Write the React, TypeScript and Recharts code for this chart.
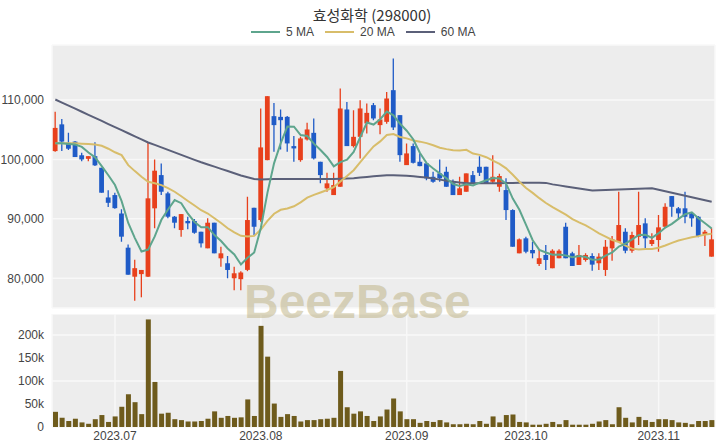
import React from "react";
import {
  ComposedChart,
  BarChart,
  Bar,
  Line,
  XAxis,
  YAxis,
  CartesianGrid,
} from "recharts";

// daily candles, oldest first
const openPrices = [
  101400, 105900, 102800, 103000, 100700, 100100, 100550, 98600, 93600, 94000,
  90900, 85150, 80270, 80700, 80270, 91770, 97360, 94290, 90360, 88120,
  89640, 89640, 87830, 85040, 89350, 83360, 82530, 80000, 79850, 81410,
  91860, 89800, 99880, 107280, 107160, 107160, 102240, 99880, 103360, 104470,
  99600, 95130, 94000, 95400, 108400, 102240, 103800, 106050, 109130, 105770,
  106320, 111650, 107450, 99040, 102240, 99600, 99330, 97080, 97650, 97920,
  96070, 94000, 94560, 97360, 98760, 98760, 96240, 95400, 94840, 91480,
  84200, 86720, 84760, 82410, 83920, 81690, 83370, 88670, 84200, 82240,
  83080, 83750, 82530, 81400, 85040, 86150, 87830, 84640, 86980, 89240,
  85770, 86440, 88670, 93830, 91770, 91770, 90920, 90360, 87450, 83640,
];
const highPrices = [
  108000, 106800, 104500, 103100, 101100, 100550, 102900, 98600, 94800, 94400,
  91600, 85700, 83100, 81400, 102950, 100000, 99330, 94560, 90500, 90800,
  90350, 89960, 87830, 90080, 89350, 85300, 83750, 81950, 81200, 93700,
  91860, 108570, 110640, 109510, 108400, 107300, 103920, 103800, 106150, 106890,
  99600, 97750, 97750, 111930, 109680, 108290, 109970, 109410, 109510, 108570,
  111360, 116980, 107450, 102690, 102690, 101010, 99330, 97920, 100000, 98760,
  96600, 97080, 97650, 98030, 100550, 98760, 100720, 97600, 96810, 91620,
  86700, 87000, 86150, 84760, 85600, 84900, 84900, 89350, 84480, 85600,
  84200, 84200, 84200, 86440, 87110, 94560, 88400, 87830, 94560, 90080,
  87560, 90640, 92610, 93830, 92000, 94560, 91000, 90500, 88120, 88400,
];
const lowPrices = [
  101300, 101400, 101600, 100400, 99700, 99700, 98900, 94400, 92000, 91700,
  86150, 80600, 76200, 76800, 80200, 88400, 94000, 90080, 88400, 87000,
  88240, 87500, 85200, 85040, 84200, 81950, 80000, 78000, 78000, 81200,
  87280, 89500, 99880, 101280, 101680, 101280, 99600, 99600, 103200, 100000,
  95970, 94560, 94000, 95400, 102240, 102000, 100170, 104370, 106600, 104250,
  106000, 104930, 99600, 99040, 99300, 98870, 96500, 96070, 96240, 95400,
  94000, 94000, 94560, 95970, 97200, 95970, 95970, 94560, 89800, 85310,
  84200, 84200, 83360, 82070, 81400, 81690, 83370, 83370, 82070, 82240,
  82800, 81270, 81400, 80390, 82960, 86000, 84200, 84310, 85600, 85040,
  85430, 84470, 88400, 90360, 90080, 89240, 88670, 86900, 85430, 83640,
];
const closePrices = [
  105300, 103000, 101800, 100400, 100000, 100550, 99000, 94400, 92700, 91800,
  87000, 80600, 81700, 81400, 93450, 98100, 94560, 90360, 89350, 90800,
  89250, 87660, 85880, 89350, 84200, 84200, 81400, 80840, 80970, 89800,
  88670, 102020, 110640, 105770, 106600, 102690, 101850, 103530, 105040, 100170,
  97360, 95970, 95680, 108570, 102240, 103800, 108570, 107830, 106890, 106720,
  110250, 105380, 100720, 101010, 99430, 98870, 96810, 96240, 96810, 95400,
  94000, 95130, 97650, 95970, 97750, 95970, 97080, 97200, 91480, 85310,
  86550, 84470, 84200, 83370, 83080, 84640, 84640, 83370, 82070, 83920,
  83920, 82300, 83640, 85310, 86550, 88960, 84640, 87280, 88960, 86720,
  86440, 88570, 92030, 92030, 90920, 90360, 90080, 87110, 87830, 86550,
];
const volumes = [
  33000, 20000, 13000, 18000, 10000, 7000, 17000, 26000, 11000, 23000,
  44000, 71000, 54000, 28000, 234000, 98000, 29000, 31000, 17000, 15000,
  12000, 12000, 13000, 18000, 34000, 20000, 24000, 20000, 21000, 60000,
  24000, 220000, 153000, 51000, 22000, 28000, 24000, 12000, 15000, 15000,
  17000, 18000, 20000, 122000, 43000, 29000, 34000, 24000, 13000, 23000,
  38000, 62000, 34000, 17000, 17000, 9000, 13000, 11000, 15000, 10000,
  6000, 6000, 7000, 6000, 13000, 7000, 23000, 10000, 26000, 27000,
  11000, 10000, 5000, 5000, 7000, 11000, 6000, 15000, 5000, 5000,
  5000, 7000, 12000, 15000, 6000, 43000, 20000, 10000, 22000, 15000,
  11000, 17000, 17000, 15000, 10000, 9000, 6000, 13000, 13000, 15000,
];
const ma5 = [
  102700, 102700, 102600, 102500, 102100, 101150, 100350, 98870, 97330, 95690,
  92980, 89300, 86760, 84500, 84830, 87050, 89840, 91570, 93160, 92630,
  90860, 89480, 88590, 88590, 87270, 86260, 85010, 84000, 82320, 83440,
  84340, 88460, 94420, 99380, 102740, 105540, 105510, 104090, 103940, 102660,
  101590, 100410, 98840, 99550, 99960, 101250, 103770, 106200, 105870, 106760,
  108050, 107410, 105990, 104820, 103360, 101080, 99370, 98470, 97630, 96830,
  95850, 95520, 95800, 95630, 96100, 96490, 96880, 96790, 95900, 93410,
  91520, 89000, 86400, 84780, 84330, 83950, 83990, 83820, 83560, 83730,
  83580, 83120, 83170, 83820, 84340, 85350, 85820, 86550, 87280, 87310,
  86810, 87590, 88540, 89160, 90000, 90780, 91090, 90100, 89260, 88390,
];
const ma20 = [
  102700, 102700, 102700, 102700, 102650, 102600, 102500, 102300, 101800, 101200,
  100720, 99040, 98030, 97080, 96240, 96000, 95680, 95180, 94560, 93810,
  93010, 92240, 91450, 90900, 90110, 89290, 88410, 87730, 87140, 87040,
  87130, 88200, 89650, 90860, 91520, 91750, 92120, 92770, 93560, 94030,
  94430, 94850, 95340, 96300, 97200, 98180, 99540, 100890, 102180, 103030,
  104110, 104280, 103780, 103540, 103190, 102990, 102740, 102380, 101970, 101730,
  101560, 101520, 101620, 100990, 100760, 100370, 99800, 99260, 98490, 97420,
  96240, 95190, 94370, 93480, 92670, 91960, 91350, 90700, 89970, 89390,
  88890, 88250, 87550, 87010, 86450, 86100, 85480, 84990, 84860, 84930,
  84920, 85130, 85520, 85950, 86350, 86630, 86900, 87090, 87380, 87510,
];
const ma60 = [
  110080, 109560, 109050, 108530, 108020, 107500, 106980, 106470, 105950, 105440,
  104920, 104400, 103890, 103370, 102850, 102440, 102020, 101600, 101180, 100760,
  100340, 99920, 99520, 99150, 98780, 98410, 98040, 97670, 97300, 97000,
  96700, 96600, 96650, 96700, 96700, 96700, 96700, 96700, 96700, 96700,
  96700, 96700, 96700, 96750, 96800, 96850, 96950, 97050, 97150, 97250,
  97330, 97350, 97300, 97250, 97150, 97050, 96950, 96800, 96600, 96400,
  96250, 96100, 96000, 95980, 95970, 95970, 95980, 96000, 96020, 96040,
  96060, 96070, 96070, 96060, 96050, 95800, 95630, 95460, 95290, 95120,
  94950, 94780, 94820, 94860, 94900, 94940, 94980, 95020, 95060, 95100,
  95130, 94880, 94630, 94380, 94130, 93880, 93630, 93380, 93130, 92880,
];

// first candle of each month on the lower axis
const monthStarts = [9, 31, 53, 71, 91];
const monthLabels = ["2023.07", "2023.08", "2023.09", "2023.10", "2023.11"];
const candleGrid = [0, 20, 40, 60, 80];
const priceTicks = [80000, 90000, 100000, 110000];
const volumeTicks = [0, 50000, 100000, 150000, 200000];

const UP = "#e8401c";
const DOWN = "#1f5bc7";
const FONT = "'Liberation Sans', Arial, sans-serif";
const PLOT_BG = "#ededed";
const GRID = "#f8f8f8";

const rows = closePrices.map((close, i) => ({
  i,
  open: openPrices[i],
  high: highPrices[i],
  low: lowPrices[i],
  close,
  range: [lowPrices[i], highPrices[i]],
  volume: volumes[i],
  ma5: ma5[i],
  ma20: ma20[i],
  ma60: ma60[i],
}));

// bar spans low..high, so the body is placed inside it proportionally
const Candle = (props: any) => {
  const { x, y, width, height, payload } = props;
  const top = Math.min(y, y + height);
  const h = Math.abs(height);
  const { open, close, high, low } = payload;
  const color = close >= open ? UP : DOWN;
  const k = high > low ? h / (high - low) : 0;
  const bodyTop = top + (high - Math.max(open, close)) * k;
  const bodyBottom = top + (high - Math.min(open, close)) * k;
  const cx = x + width / 2;
  return (
    <g>
      <line x1={cx} x2={cx} y1={top} y2={top + h} stroke={color} strokeWidth={1.3} />
      <rect
        x={cx - 2.4}
        width={4.8}
        y={bodyTop}
        height={Math.max(1, bodyBottom - bodyTop)}
        fill={color}
      />
    </g>
  );
};

const tickStyle = { fontSize: 12, fill: "#444", fontFamily: FONT };

const legendItems = [
  { label: "5 MA", color: "#5ea58d" },
  { label: "20 MA", color: "#d8bd6a" },
  { label: "60 MA", color: "#5b6079" },
];

export default function App() {
  return (
    <div
      style={{
        position: "absolute",
        left: 0,
        top: 0,
        width: 720,
        height: 448,
        background: "#fff",
        overflow: "hidden",
        fontFamily: FONT,
      }}
    >
      <div
        style={{
          position: "absolute",
          top: 4,
          left: 12,
          width: 720,
          textAlign: "center",
          fontSize: 15,
          color: "#333",
          fontFamily: "'Noto Sans CJK KR', 'Noto Sans', sans-serif",
        }}
      >
        효성화학 (298000)
      </div>
      <div
        style={{
          position: "absolute",
          top: 25,
          left: 251,
          display: "flex",
          alignItems: "center",
          fontSize: 12,
          color: "#444",
        }}
      >
        {legendItems.map((it) => (
          <div key={it.label} style={{ display: "flex", alignItems: "center", marginRight: 11 }}>
            <span
              style={{ display: "inline-block", width: 29, height: 2, background: it.color, marginRight: 6 }}
            />
            <span>{it.label}</span>
          </div>
        ))}
      </div>

      <div style={{ position: "absolute", left: 0, top: 0 }}>
        <ComposedChart
          width={720}
          height={310}
          data={rows}
          margin={{ top: 45, right: 5, bottom: 2, left: 0 }}
        >
          <CartesianGrid fill={PLOT_BG} stroke={GRID} strokeWidth={1.5} />
          <XAxis
            dataKey="i"
            ticks={candleGrid}
            height={0}
            tick={false}
            axisLine={false}
            tickLine={false}
          />
          <YAxis
            width={52}
            domain={[75000, 119250]}
            ticks={priceTicks}
            allowDataOverflow
            axisLine={false}
            tickLine={false}
            tick={tickStyle}
            tickFormatter={(v: number) => v.toLocaleString("en-US")}
          />
          <Bar dataKey="range" shape={Candle} isAnimationActive={false} />
          <Line type="linear" dataKey="ma60" stroke="#5b6079" strokeWidth={2} dot={false} isAnimationActive={false} />
          <Line type="linear" dataKey="ma20" stroke="#d8bd6a" strokeWidth={2} dot={false} isAnimationActive={false} />
          <Line type="linear" dataKey="ma5" stroke="#5ea58d" strokeWidth={2} dot={false} isAnimationActive={false} />
        </ComposedChart>
      </div>

      <div style={{ position: "absolute", left: 0, top: 314 }}>
        <BarChart
          width={720}
          height={134}
          data={rows}
          margin={{ top: 0, right: 5, bottom: 1, left: 0 }}
        >
          <CartesianGrid fill={PLOT_BG} stroke={GRID} strokeWidth={1.5} />
          <XAxis
            dataKey="i"
            ticks={monthStarts}
            height={20}
            axisLine={false}
            tickLine={false}
            tickSize={2}
            tick={tickStyle}
            tickFormatter={(v: number) => monthLabels[monthStarts.indexOf(v)] ?? ""}
          />
          <YAxis
            width={52}
            domain={[0, 245800]}
            ticks={volumeTicks}
            axisLine={false}
            tickLine={false}
            tick={tickStyle}
            tickFormatter={(v: number) => (v === 0 ? "0" : `${v / 1000}k`)}
          />
          <Bar dataKey="volume" fill="#6e5b1c" barSize={5} isAnimationActive={false} />
        </BarChart>
      </div>

      <div
        style={{
          position: "absolute",
          left: 244,
          top: 278,
          fontSize: 48,
          fontWeight: 700,
          color: "rgba(188,176,128,0.5)",
          fontFamily: FONT,
          pointerEvents: "none",
          lineHeight: 1,
        }}
      >
        BeezBase
      </div>
    </div>
  );
}
